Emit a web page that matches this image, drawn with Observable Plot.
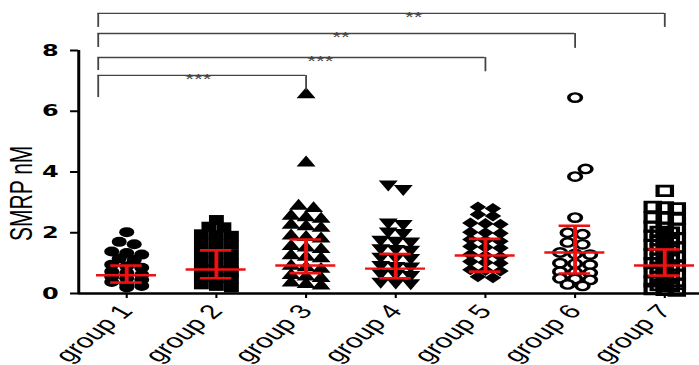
<!DOCTYPE html>
<html><head><meta charset="utf-8">
<script src="https://cdn.jsdelivr.net/npm/d3@7"></script>
<script src="https://cdn.jsdelivr.net/npm/@observablehq/plot@0.6"></script>
<style>body{margin:0;background:#fff} #chart svg{display:block;max-width:none}</style>
</head><body><div id="chart"></div>
<script>
const groups = ["group 1","group 2","group 3","group 4","group 5","group 6","group 7"];
const group1Values = [2.02,1.7,1.62,1.38,1.33,1.28,1.15,1.1,0.95,0.9,0.85,0.72,0.68,0.62,0.55,0.5,0.45,0.38,0.3,0.25,0.2];
const group2Values = [2.42,2.2,2.18,1.95,1.92,1.9,1.65,1.62,1.6,1.35,1.3,1.28,1.05,1.0,0.98,0.8,0.75,0.72,0.55,0.5,0.48,0.3,0.25,0.2];
const group3Values = [6.55,4.3,2.88,2.8,2.55,2.5,2.45,2.25,2.2,2.15,1.9,1.85,1.8,1.55,1.5,1.45,1.25,1.2,1.15,0.9,0.85,0.8,0.6,0.55,0.5,0.35,0.3,0.25];
const group4Values = [3.6,3.45,2.35,2.3,2.05,2.0,1.78,1.75,1.72,1.5,1.48,1.45,1.22,1.2,1.18,0.95,0.92,0.9,0.68,0.66,0.62,0.4,0.37,0.35];
const group5Values = [2.85,2.8,2.6,2.55,2.32,2.3,2.28,2.02,2.0,1.98,1.78,1.75,1.72,1.55,1.52,1.5,1.28,1.25,1.22,1.05,1.02,1.0,0.78,0.76,0.74,0.55,0.52];
const group6Values = [6.45,4.1,3.85,2.5,2.0,1.95,1.68,1.62,1.35,1.3,1.28,1.0,0.98,0.95,0.72,0.7,0.68,0.5,0.48,0.45,0.3,0.25];
const group7Values = [3.38,2.85,2.83,2.8,2.5,2.48,2.45,2.2,2.15,2.12,2.03,2.0,1.9,1.85,1.82,1.75,1.72,1.6,1.55,1.52,1.45,1.42,1.3,1.25,1.22,1.15,1.12,1.0,0.95,0.92,0.85,0.82,0.7,0.65,0.62,0.55,0.52,0.4,0.35,0.32,0.28,0.25,0.15,0.12,0.1];

const medians = [0.6,0.79,0.92,0.82,1.25,1.35,0.92];
const lowers  = [0.36,0.5,0.67,0.5,0.72,0.66,0.59];
const uppers  = [0.92,1.42,1.78,1.3,1.8,2.23,1.45];

const yTicks = [0,2,4,6,8];
const compTo = [7,6,5,3];
const compLabel = ["**","**","***","***"];
const compTop = [9.22,8.56,7.77,7.18];
const compLeftEnd = [8.76,8.1,7.34,6.45];
const compRightEnd = [8.76,8.07,7.3,6.68];
const compLabelX = [4.2,3.39,3.16,1.8];
const yLabel = "SMRP nM";

const allValues = [group1Values,group2Values,group3Values,group4Values,group5Values,group6Values,group7Values];

const W0 = 466, H = 365, mL = 52, mR = 0, mT = 50, mB = 72;
const xDomain = [0.465, 7.39], yDomain = [0, 8];
const pxX = (W0 - mL - mR) / (xDomain[1] - xDomain[0]);
const pxY = (H - mT - mB) / (yDomain[1] - yDomain[0]);

const triangleDown = {
  draw(ctx, size) {
    const y = -Math.sqrt(size / (Math.sqrt(3) * 3));
    ctx.moveTo(0, -y * 2);
    ctx.lineTo(-Math.sqrt(3) * y, y);
    ctx.lineTo(Math.sqrt(3) * y, y);
    ctx.closePath();
  }
};

const styles = [
  {symbol: "circle", r: 5, fill: "black", row: 5, col: 10},
  {symbol: "square", r: 5.6, fill: "black", row: 5, col: 10},
  {symbol: "triangle", r: 4.7, fill: "black", row: 5, col: 10},
  {symbol: triangleDown, r: 4.7, fill: "black", row: 5, col: 10},
  {symbol: "diamond2", r: 5, fill: "black", row: 5, col: 10},
  {symbol: "circle", r: 4.2, fill: "white", stroke: "black", strokeWidth: 2.4, row: 5, col: 10},
  {symbol: "square", r: 5.4, fill: "none", stroke: "black", strokeWidth: 2.8, row: 3.5, col: 8}
];

// Prism-like column scatter: consecutive close values form a row, spread side by side
function scatterLayout(vals, gi, rowPx, colPx) {
  const sorted = [...vals].sort((a, b) => b - a);
  const rows = [];
  for (const v of sorted) {
    const last = rows[rows.length - 1];
    if (last && (last[0] - v) * pxY < rowPx) last.push(v); else rows.push([v]);
  }
  const out = [];
  rows.forEach((row, ri) => {
    const n = row.length;
    const next = rows[ri + 1];
    // lone points that touch the lone point below are nudged aside
    const nudge = n === 1 && next && next.length === 1 && (row[0] - next[0]) * pxY < 10 ? 0.7 * colPx : 0;
    row.forEach((v, j) => out.push({v, x: gi + 1 + ((j - (n - 1) / 2) * colPx + nudge) / pxX}));
  });
  return out;
}

const dotMarks = allValues.map((vals, gi) => {
  const s = styles[gi];
  const pts = scatterLayout(vals, gi, s.row, s.col);
  return Plot.dot(pts, {x: "x", y: "v", symbol: s.symbol, r: s.r, fill: s.fill,
    stroke: s.stroke || "none", strokeWidth: s.strokeWidth || 0});
});

const summary = groups.map((g, i) => ({i: i + 1, med: medians[i], lo: lowers[i], hi: uppers[i]}));
const comps = compTo.map((t, i) => ({to: t, from: 1 - 19 / pxX, top: compTop[i], le: compLeftEnd[i], re: compRightEnd[i], label: compLabel[i], lx: compLabelX[i]}));
const red = "#ee1111";

const plot = Plot.plot({
  width: W0, height: H,
  marginLeft: mL, marginRight: mR, marginTop: mT, marginBottom: mB,
  x: {type: "linear", domain: xDomain},
  y: {domain: yDomain},
  style: {fontFamily: "Liberation Sans, Arial, sans-serif", color: "black", background: "white"},
  marks: [
    Plot.ruleY([0], {stroke: "black", strokeWidth: 2.4}),
    Plot.ruleX([xDomain[0]], {y1: yDomain[0], y2: yDomain[1], stroke: "black", strokeWidth: 2}),
    Plot.axisY({ticks: yTicks, tickSize: 5.3, tickPadding: 8, fontSize: 16, fontWeight: "bold",
      fontFamily: "DejaVu Sans, sans-serif", strokeWidth: 2, label: null}),
    Plot.axisX({ticks: d3.range(1, 8), tickFormat: d => groups[d - 1], tickRotate: -50, tickSize: 5,
      tickPadding: 9, fontSize: 20, strokeWidth: 1.4, label: null}),
    Plot.text([yLabel], {x: xDomain[0], y: 3.3, dx: -38, rotate: -90, fontSize: 21, fill: "black"}),
    ...dotMarks,
    Plot.ruleX(summary, {x: "i", y1: "lo", y2: "hi", stroke: red, strokeWidth: 2.6}),
    Plot.ruleY(summary, {y: "med", x1: d => d.i - 20 / pxX, x2: d => d.i + 20 / pxX, stroke: red, strokeWidth: 2.4}),
    Plot.ruleY(summary, {y: "lo", x1: d => d.i - 10.5 / pxX, x2: d => d.i + 10.5 / pxX, stroke: red, strokeWidth: 2.6}),
    Plot.ruleY(summary, {y: "hi", x1: d => d.i - 10.5 / pxX, x2: d => d.i + 10.5 / pxX, stroke: red, strokeWidth: 2.6}),
    Plot.ruleY(comps, {y: "top", x1: "from", x2: "to", stroke: "#444", strokeWidth: 1.3}),
    Plot.ruleX(comps, {x: "from", y1: "le", y2: "top", stroke: "#444", strokeWidth: 1.2}),
    Plot.ruleX(comps, {x: "to", y1: "re", y2: "top", stroke: "#444", strokeWidth: 1.2}),
    Plot.text(comps, {x: "lx", y: "top", text: "label", fontSize: 15, fill: "#444", dy: 4})
  ]
});

plot.setAttribute("width", 699);
plot.setAttribute("preserveAspectRatio", "none");
plot.setAttribute("viewBox", `0 0 ${W0} ${H}`);
document.getElementById("chart").appendChild(plot);
</script>
</body></html>
